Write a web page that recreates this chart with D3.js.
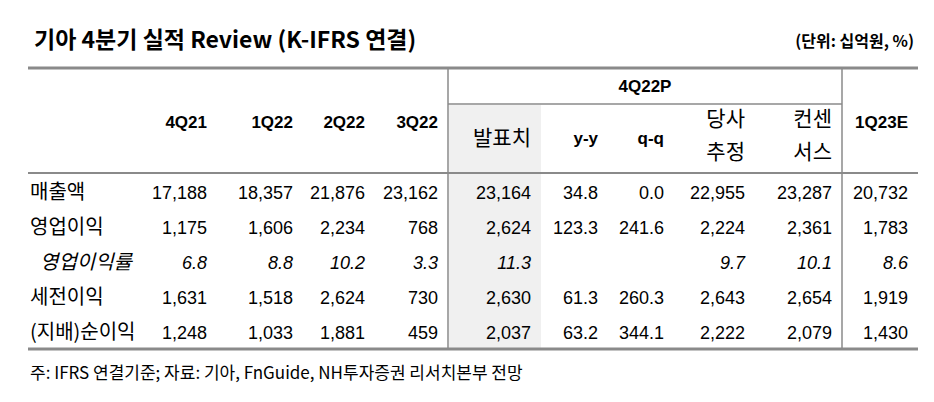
<!DOCTYPE html>
<html><head><meta charset="utf-8">
<script src="https://cdn.jsdelivr.net/npm/d3@7"></script>
<style>body{margin:0;background:#fff}</style>
</head><body><svg id="chart" width="934" height="402"></svg>
<script>
const title = "기아 4분기 실적 Review (K-IFRS 연결)";
const unit = "(단위: 십억원, %)";
const note = "주: IFRS 연결기준; 자료: 기아, FnGuide, NH투자증권 리서치본부 전망";
const columns = ["4Q21", "1Q22", "2Q22", "3Q22", "발표치", "y-y", "q-q", "당사 추정", "컨센 서스", "1Q23E"];
const rowLabels = ["매출액", "영업이익", "영업이익률", "세전이익", "(지배)순이익"];
const sales   = ["17,188", "18,357", "21,876", "23,162", "23,164", "34.8", "0.0", "22,955", "23,287", "20,732"];
const opInc   = ["1,175", "1,606", "2,234", "768", "2,624", "123.3", "241.6", "2,224", "2,361", "1,783"];
const opMargin = ["6.8", "8.8", "10.2", "3.3", "11.3", "", "", "9.7", "10.1", "8.6"];
const pretax  = ["1,631", "1,518", "2,624", "730", "2,630", "61.3", "260.3", "2,643", "2,654", "1,919"];
const netInc  = ["1,248", "1,033", "1,881", "459", "2,037", "63.2", "344.1", "2,222", "2,079", "1,430"];
const rows = [sales, opInc, opMargin, pretax, netInc];
const lowerHeader = ["발표치", "y-y", "q-q", "당사 추정", "컨센 서스"];

const svg = d3.select("#chart");
const x = d3.scaleOrdinal().domain(columns)
    .range([207, 293, 365, 438, 531, 598, 664, 745, 832, 908]);
const y = d3.scaleBand().domain(rowLabels).range([174, 349]);
const num = "'Liberation Sans', Arial, sans-serif";
const kr = "'Noto Sans CJK KR', sans-serif";

svg.append("text").attr("x", 34).attr("y", 48).text(title)
    .style("font-family", kr).style("font-weight", 700).style("font-size", "23px");
svg.append("text").attr("x", 914).attr("y", 47).attr("text-anchor", "end").text(unit)
    .style("font-family", kr).style("font-weight", 700).style("font-size", "16px");

// shaded 발표치 column
svg.append("rect").attr("x", 449).attr("y", 105).attr("width", 92).attr("height", 244).attr("fill", "#f0f0f0");

// rules
const gray = "#8a8a8a";
svg.append("line").attr("x1", 28).attr("x2", 918).attr("y1", 68).attr("y2", 68).attr("stroke", gray).attr("stroke-width", 3);
svg.append("line").attr("x1", 28).attr("x2", 918).attr("y1", 173).attr("y2", 173).attr("stroke", gray).attr("stroke-width", 2);
svg.append("line").attr("x1", 28).attr("x2", 918).attr("y1", 349).attr("y2", 349).attr("stroke", gray).attr("stroke-width", 3);
svg.append("line").attr("x1", 448).attr("x2", 842).attr("y1", 104).attr("y2", 104).attr("stroke", gray).attr("stroke-width", 1.5);
[448, 842].forEach(v => svg.append("line").attr("x1", v).attr("x2", v).attr("y1", 68).attr("y2", 349)
    .attr("stroke", gray).attr("stroke-width", 1.5));

// headers
svg.append("text").attr("x", 645).attr("y", 92).attr("text-anchor", "middle").text("4Q22P")
    .style("font-family", num).style("font-weight", 700).style("font-size", "17px");
const head = svg.append("g");
columns.forEach(c => {
    const parts = c.split(" ");
    const korean = /[가-힣]/.test(c);
    const lower = lowerHeader.includes(c);
    const t = head.append("text").attr("x", x(c)).attr("text-anchor", "end")
        .style("font-family", korean ? kr : num)
        .style("font-weight", korean ? 400 : 700)
        .style("font-size", korean ? "21px" : "17px");
    if (parts.length === 1) t.attr("y", lower ? (korean ? 145 : 144) : 128).text(c);
    else parts.forEach((p, i) => t.append("tspan").attr("x", x(c)).attr("y", 126 + i * 33).text(p));
});

// body
rows.forEach((vals, r) => {
    const yy = y(rowLabels[r]) + y.bandwidth() / 2 + 7;
    const italic = r === 2;
    svg.append("text").attr("x", italic ? 40 : 30).attr("y", yy).text(rowLabels[r])
        .style("font-family", kr).style("font-size", "20px").style("font-style", italic ? "italic" : "normal");
    svg.selectAll(null).data(vals.map((v, i) => ({v, c: columns[i]}))).join("text")
        .attr("x", d => x(d.c)).attr("y", yy).attr("text-anchor", "end").text(d => d.v)
        .style("font-family", num).style("font-size", "18px").style("font-style", italic ? "italic" : "normal");
});

svg.append("text").attr("x", 30).attr("y", 379).text(note)
    .style("font-family", kr).style("font-size", "17px");
</script></body></html>
